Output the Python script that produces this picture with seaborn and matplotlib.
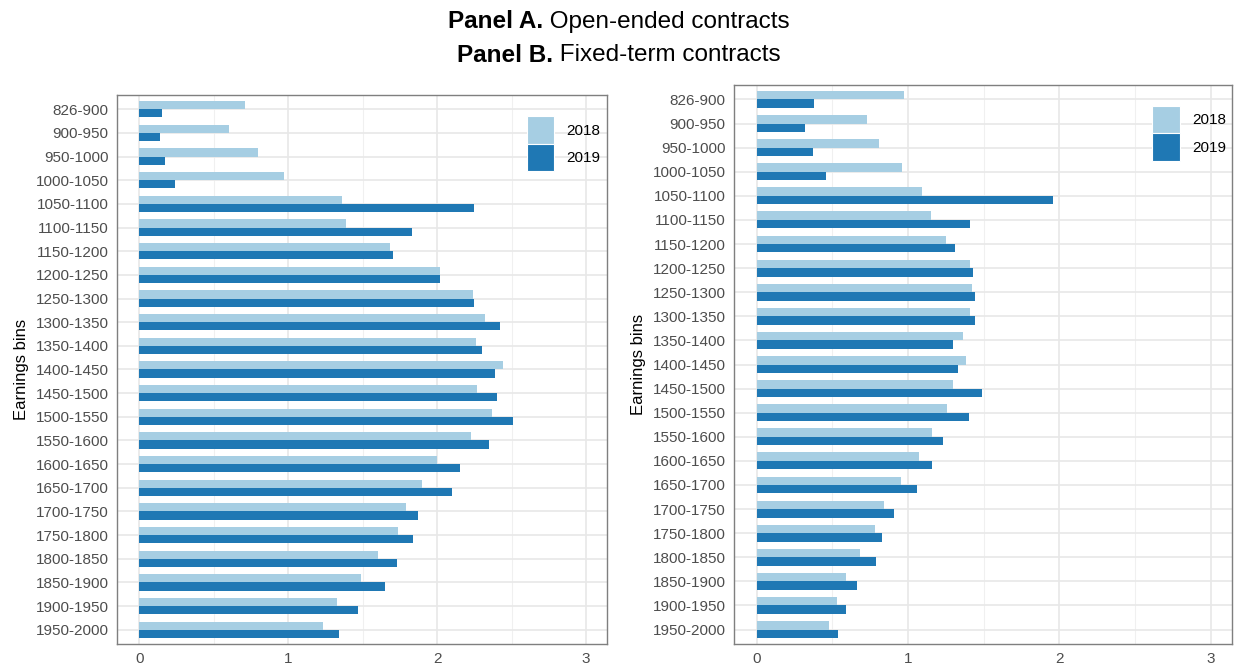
import matplotlib
matplotlib.use("Agg")
import matplotlib.pyplot as plt
from matplotlib.patches import Patch
from matplotlib.ticker import MultipleLocator
import pandas as pd
import seaborn as sns

# -----------------------------------------------------------------------------
# DATOS
# -----------------------------------------------------------------------------
bins = [
    "826-900", "900-950", "950-1000", "1000-1050", "1050-1100", "1100-1150",
    "1150-1200", "1200-1250", "1250-1300", "1300-1350", "1350-1400",
    "1400-1450", "1450-1500", "1500-1550", "1550-1600", "1600-1650",
    "1650-1700", "1700-1750", "1750-1800", "1800-1850", "1850-1900",
    "1900-1950", "1950-2000",
]
years = ["2018", "2019"]

# Panel A: contratos indefinidos
open_2018 = [0.71, 0.60, 0.80, 0.97, 1.36, 1.39, 1.68, 2.02, 2.24, 2.32, 2.26,
             2.44, 2.27, 2.37, 2.23, 2.00, 1.90, 1.79, 1.74, 1.60, 1.49, 1.33,
             1.23]
open_2019 = [0.15, 0.14, 0.17, 0.24, 2.25, 1.83, 1.70, 2.02, 2.25, 2.42, 2.30,
             2.39, 2.40, 2.51, 2.35, 2.15, 2.10, 1.87, 1.84, 1.73, 1.65, 1.47,
             1.34]

# Panel B: contratos temporales
fixed_2018 = [0.97, 0.73, 0.81, 0.96, 1.09, 1.15, 1.25, 1.41, 1.42, 1.41, 1.36,
              1.38, 1.30, 1.26, 1.16, 1.07, 0.95, 0.84, 0.78, 0.68, 0.59, 0.53,
              0.48]
fixed_2019 = [0.38, 0.32, 0.37, 0.46, 1.96, 1.41, 1.31, 1.43, 1.44, 1.44, 1.30,
              1.33, 1.49, 1.40, 1.23, 1.16, 1.06, 0.91, 0.83, 0.79, 0.66, 0.59,
              0.54]

x_ticks = [0, 1, 2, 3]
colors = ["#A6CEE3", "#1F78B4"]
title_lines = [
    ("Panel A.", " Open-ended contracts"),
    ("Panel B.", " Fixed-term contracts"),
]

# -----------------------------------------------------------------------------
# ESTILO
# -----------------------------------------------------------------------------
sns.set_style("white")
plt.rcParams["font.family"] = ["Liberation Sans", "DejaVu Sans"]
plt.rcParams["text.color"] = "black"
plt.rcParams["axes.labelcolor"] = "black"


def long_frame(v2018, v2019):
    return pd.DataFrame({
        "bin": bins * 2,
        "year": [years[0]] * len(bins) + [years[1]] * len(bins),
        "share": list(v2018) + list(v2019),
    })


# Funcion para dibujar un panel de barras horizontales agrupadas
def plot_panel(ax, data, legend_anchor):
    sns.barplot(
        data=data, y="bin", x="share", hue="year", order=bins,
        hue_order=years, palette=colors, width=0.7, orient="h",
        saturation=1, ax=ax, legend=False, edgecolor="none",
    )
    ax.set_xlim(-0.15, 3.14)
    ax.set_ylim(len(bins) - 0.4, -0.6)
    ax.set_xticks(x_ticks)
    ax.set_xticklabels([str(t) for t in x_ticks])
    ax.xaxis.set_minor_locator(MultipleLocator(0.5))
    ax.grid(True, which="major", color="#E8E8E8", linewidth=1.2)
    ax.grid(True, which="minor", axis="x", color="#F0F0F0", linewidth=0.8)
    ax.set_axisbelow(True)
    for s in ax.spines.values():
        s.set_color("#7F7F7F")
        s.set_linewidth(1.0)
    ax.tick_params(axis="both", which="major", length=4, width=1,
                   color="#333333", labelcolor="#4D4D4D", labelsize=11,
                   pad=2)
    ax.tick_params(axis="x", which="minor", length=0)
    ax.set_xlabel("")
    ax.set_ylabel("Earnings bins", fontsize=12, labelpad=5)
    handles = [Patch(facecolor=c, edgecolor="white", linewidth=0.8)
               for c in colors]
    ax.legend(handles, years, loc="upper right", bbox_to_anchor=legend_anchor,
              frameon=False, fontsize=11, handlelength=1.8,
              handleheight=2.4, labelspacing=0.0, handletextpad=0.8,
              borderaxespad=0.2)


fig = plt.figure(figsize=(12.37, 6.70), dpi=100)
ax_a = fig.add_axes([117 / 1237, 1 - 644 / 670, 490 / 1237, 549 / 670])
ax_b = fig.add_axes([734 / 1237, 1 - 644 / 670, 498 / 1237, 559 / 670])

plot_panel(ax_a, long_frame(open_2018, open_2019), (1.005, 0.978))
plot_panel(ax_b, long_frame(fixed_2018, fixed_2019), (1.006, 0.979))

# Titulo en dos lineas con la parte "Panel X." en negrita
renderer = fig.canvas.get_renderer()
fig_w = fig.get_figwidth() * fig.dpi
for (bold_part, rest), y_px in zip(title_lines, [22, 55]):
    y = 1 - y_px / 670
    t1 = fig.text(0, y, bold_part, fontsize=17.5, fontweight="bold",
                  va="center", ha="left")
    t2 = fig.text(0, y, rest, fontsize=17.5, va="center", ha="left")
    w1 = t1.get_window_extent(renderer).width
    w2 = t2.get_window_extent(renderer).width
    x0 = (fig_w - w1 - w2) / 2
    t1.set_x(x0 / fig_w)
    t2.set_x((x0 + w1) / fig_w)

fig.savefig("out.png", dpi=100)
